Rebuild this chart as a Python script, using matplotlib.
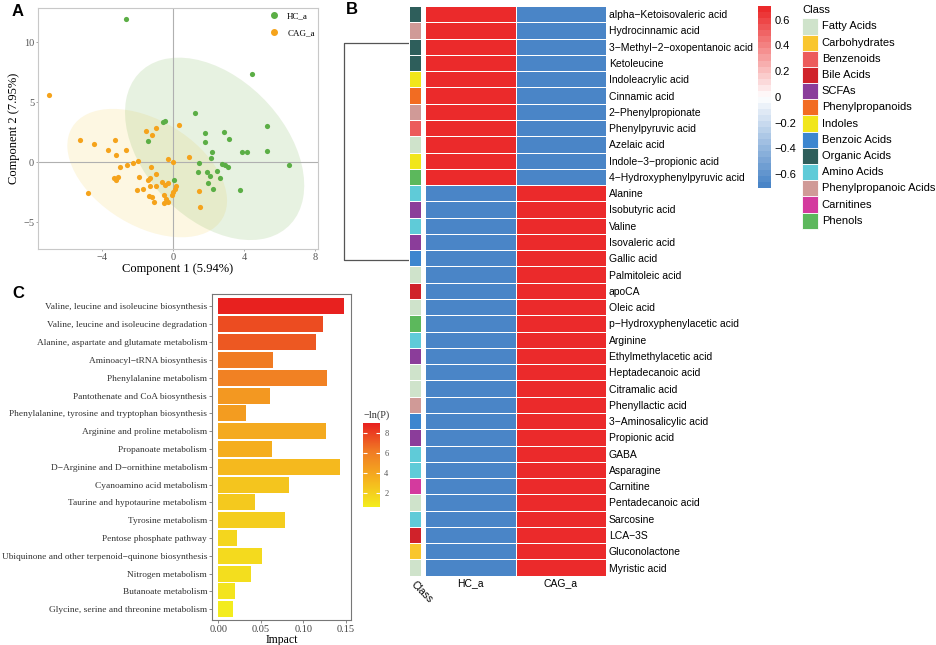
import numpy as np
import matplotlib
matplotlib.use("Agg")
import matplotlib.pyplot as plt
from matplotlib.patches import Ellipse, Rectangle
from matplotlib.lines import Line2D
from matplotlib.colors import LinearSegmentedColormap, Normalize, ListedColormap
import matplotlib.cm as cm

# === Panel A: PLS-DA scores ===
hc_x = [-2.63, 4.47, 1.22, 5.33, -0.56, -0.43, 1.78, 2.89, 3.17, 1.78, -1.39, 2.22, 3.90, 4.17, 5.28,
        2.12, 1.46, 2.78, 2.93, 3.12, 6.54, 1.41, 1.93, 2.08, 2.48, 2.65, 0.07, 1.97, 2.25, 3.79]
hc_y = [11.94, 7.39, 4.11, 3.05, 3.33, 3.44, 2.44, 2.55, 1.94, 1.69, 1.76, 0.83, 0.88, 0.88, 0.94,
        0.33, -0.06, -0.11, -0.22, -0.36, -0.25, -0.78, -0.81, -1.14, -0.70, -1.28, -1.45, -1.72, -2.25, -2.31]
cag_x = [-7.00, -5.24, -4.45, -4.81, 0.34, -0.98, -1.54, -1.20, -3.27, -3.68, -2.63, -3.23, 0.90, -0.26,
         0.02, -1.99, -2.27, -2.59, -2.97, -1.22, -0.94, -1.92, -3.34, -3.08, -3.19, -1.43, -1.30, -0.60,
         -0.45, -0.26, -0.98, -1.30, -1.71, -2.01, 0.17, 0.11, 0.02, -1.34, -1.20, -0.49, -0.38, -0.30,
         -0.51, -0.04, -1.05, 1.48, 1.54]
cag_y = [5.61, 1.89, 1.56, -2.58, 3.11, 2.83, 2.61, 2.28, 1.88, 1.03, 1.00, 0.61, 0.44, 0.28,
         0.03, 0.11, -0.08, -0.20, -0.36, -0.39, -1.00, -1.22, -1.28, -1.22, -1.47, -1.50, -1.33, -1.67,
         -1.89, -1.72, -1.95, -2.00, -2.20, -2.31, -1.98, -2.25, -2.50, -2.78, -2.86, -2.72, -3.06, -3.28,
         -3.39, -2.75, -3.31, -2.36, -3.75]
# 95% ellipses: centre, half extent along x / y, correlation
ell_center = {"HC_a": (2.35, 1.12), "CAG_a": (-1.45, -0.90)}
ell_half = {"HC_a": (5.05, 7.6), "CAG_a": (4.5, 5.35)}
ell_rho = {"HC_a": -0.40, "CAG_a": -0.43}

# === Panel B: heatmap ===
metabolites = ["alpha\u2212Ketoisovaleric acid", "Hydrocinnamic acid", "3\u2212Methyl\u22122\u2212oxopentanoic acid",
               "Ketoleucine", "Indoleacrylic acid", "Cinnamic acid", "2\u2212Phenylpropionate",
               "Phenylpyruvic acid", "Azelaic acid", "Indole\u22123\u2212propionic acid",
               "4\u2212Hydroxyphenylpyruvic acid", "Alanine", "Isobutyric acid", "Valine", "Isovaleric acid",
               "Gallic acid", "Palmitoleic acid", "apoCA", "Oleic acid", "p\u2212Hydroxyphenylacetic acid",
               "Arginine", "Ethylmethylacetic acid", "Heptadecanoic acid", "Citramalic acid",
               "Phenyllactic acid", "3\u2212Aminosalicylic acid", "Propionic acid", "GABA", "Asparagine",
               "Carnitine", "Pentadecanoic acid", "Sarcosine", "LCA\u22123S", "Gluconolactone", "Myristic acid"]
metab_class = ["Organic Acids", "Phenylpropanoic Acids", "Organic Acids", "Organic Acids", "Indoles",
               "Phenylpropanoids", "Phenylpropanoic Acids", "Benzenoids", "Fatty Acids", "Indoles",
               "Phenols", "Amino Acids", "SCFAs", "Amino Acids", "SCFAs", "Benzoic Acids", "Fatty Acids",
               "Bile Acids", "Fatty Acids", "Phenols", "Amino Acids", "SCFAs", "Fatty Acids", "Fatty Acids",
               "Phenylpropanoic Acids", "Benzoic Acids", "SCFAs", "Amino Acids", "Amino Acids", "Carnitines",
               "Fatty Acids", "Amino Acids", "Bile Acids", "Carbohydrates", "Fatty Acids"]
groups = ["HC_a", "CAG_a"]
z_hc = [0.707, 0.707, 0.707, 0.707, 0.707, 0.707, 0.707, 0.707, 0.707, 0.707, 0.707,
        -0.707, -0.707, -0.707, -0.707, -0.707, -0.707, -0.707, -0.707, -0.707, -0.707, -0.707, -0.707,
        -0.707, -0.707, -0.707, -0.707, -0.707, -0.707, -0.707, -0.707, -0.707, -0.707, -0.707, -0.707]
z_cag = [-0.707, -0.707, -0.707, -0.707, -0.707, -0.707, -0.707, -0.707, -0.707, -0.707, -0.707,
         0.707, 0.707, 0.707, 0.707, 0.707, 0.707, 0.707, 0.707, 0.707, 0.707, 0.707, 0.707,
         0.707, 0.707, 0.707, 0.707, 0.707, 0.707, 0.707, 0.707, 0.707, 0.707, 0.707, 0.707]
class_names = ["Fatty Acids", "Carbohydrates", "Benzenoids", "Bile Acids", "SCFAs", "Phenylpropanoids",
               "Indoles", "Benzoic Acids", "Organic Acids", "Amino Acids", "Phenylpropanoic Acids",
               "Carnitines", "Phenols"]
class_colors = ["#CFE3CB", "#F9C62E", "#EC5B5B", "#D0222A", "#8B3D9A", "#F26C22",
                "#F1E61B", "#3C86CF", "#2E5E5B", "#5FCBD8", "#D09A97", "#D43A9E", "#5CB85C"]
dendro_rows = [2.29, 15.6]   # where the two cluster branches join (row units)

# === Panel C: pathway impact ===
pathways = ["Valine, leucine and isoleucine biosynthesis", "Valine, leucine and isoleucine degradation",
            "Alanine, aspartate and glutamate metabolism", "Aminoacyl\u2212tRNA biosynthesis",
            "Phenylalanine metabolism", "Pantothenate and CoA biosynthesis",
            "Phenylalanine, tyrosine and tryptophan biosynthesis", "Arginine and proline metabolism",
            "Propanoate metabolism", "D\u2212Arginine and D\u2212ornithine metabolism",
            "Cyanoamino acid metabolism", "Taurine and hypotaurine metabolism", "Tyrosine metabolism",
            "Pentose phosphate pathway", "Ubiquinone and other terpenoid\u2212quinone biosynthesis",
            "Nitrogen metabolism", "Butanoate metabolism", "Glycine, serine and threonine metabolism"]
impact = [0.1484, 0.1229, 0.1147, 0.0648, 0.1276, 0.0609, 0.0326, 0.1264, 0.0628, 0.1433,
          0.0832, 0.0436, 0.0781, 0.0216, 0.0514, 0.0385, 0.0200, 0.0169]
neg_ln_p = [8.94, 7.6, 7.2, 6.1, 5.8, 4.7, 4.5, 3.8, 3.6, 3.1, 2.5, 2.3, 2.1, 1.7, 1.5, 1.3, 1.0, 0.64]

SERIF = "Liberation Serif"
SANS = "Liberation Sans"


def add_ellipse(ax, center, half, rho, **kw):
    """ellipse whose bounding box half sizes are `half`, tilted by correlation rho"""
    hx, hy = half
    m = np.array([[hx * hx, rho * hx * hy], [rho * hx * hy, hy * hy]])
    vals, vecs = np.linalg.eigh(m)
    angle = np.degrees(np.arctan2(vecs[1, 1], vecs[0, 1]))
    ax.add_patch(Ellipse(center, 2 * np.sqrt(vals[1]), 2 * np.sqrt(vals[0]), angle=angle, **kw))


fig = plt.figure(figsize=(9.36, 6.45), dpi=100)

# ---------- A ----------
axA = fig.add_axes([0.0403, 0.6135, 0.2997, 0.3736])
add_ellipse(axA, ell_center["CAG_a"], ell_half["CAG_a"], ell_rho["CAG_a"],
            facecolor="#F5D76E", alpha=0.2, edgecolor="none", zorder=0)
add_ellipse(axA, ell_center["HC_a"], ell_half["HC_a"], ell_rho["HC_a"],
            facecolor="#8BBF6A", alpha=0.2, edgecolor="none", zorder=0)
axA.axhline(0, color="#B0B0B0", lw=0.8, zorder=1)
axA.axvline(0, color="#B0B0B0", lw=0.8, zorder=1)
axA.scatter(hc_x, hc_y, s=14, color="#5BAE45", zorder=3, linewidths=0)
axA.scatter(cag_x, cag_y, s=14, color="#F5A31B", zorder=3, linewidths=0)
axA.set_xlim(-7.62, 8.19)
axA.set_ylim(-7.25, 12.83)
axA.set_xticks([-4, 0, 4, 8])
axA.set_yticks([-5, 0, 5, 10])
axA.tick_params(labelsize=7.5, labelcolor="#555555", color="#999999", length=1.5, width=0.6, pad=1)
for lab in axA.get_xticklabels() + axA.get_yticklabels():
    lab.set_family(SERIF)
for s in axA.spines.values():
    s.set_color("#C8C8C8")
    s.set_linewidth(0.8)
axA.set_xlabel("Component 1 (5.94%)", family=SERIF, fontsize=9, labelpad=1)
axA.set_ylabel("Component 2 (7.95%)", family=SERIF, fontsize=9, labelpad=2)
handles = [Line2D([], [], marker="o", ls="", color="#5BAE45", markersize=4, label="HC_a"),
           Line2D([], [], marker="o", ls="", color="#F5A31B", markersize=4, label="CAG_a")]
axA.legend(handles=handles, loc="upper right", frameon=False, prop={"family": SERIF, "size": 6.5},
           handletextpad=0.4, labelspacing=1.0, borderaxespad=0.1, borderpad=0.3)

# ---------- B ----------
n = len(metabolites)
hb, hh = 0.1074, 0.8833
axH = fig.add_axes([425 / 936, hb, 181 / 936, hh])
heat_cmap = LinearSegmentedColormap.from_list("bwr2", ["#4A85C7", "#FFFFFF", "#EB2A2B"])
heat_cmap = ListedColormap(heat_cmap(np.linspace(0, 1, 30)))
mat = np.column_stack([z_hc, z_cag])
axH.pcolormesh(mat, cmap=heat_cmap, vmin=-0.707, vmax=0.707, edgecolors="white", linewidth=0.6)
axH.set_xlim(0, 2)
axH.set_ylim(n, 0)
axH.set_xticks([0.5, 1.5])
axH.set_xticklabels(groups, family=SANS, fontsize=7.5)
axH.set_yticks(np.arange(n) + 0.5)
axH.set_yticklabels(metabolites, family=SANS, fontsize=7.5)
axH.yaxis.tick_right()
axH.tick_params(length=0, pad=2)
for s in axH.spines.values():
    s.set_visible(False)

axK = fig.add_axes([409 / 936, hb, 12 / 936, hh])
cls_idx = np.array([class_names.index(c) for c in metab_class]).reshape(-1, 1)
axK.pcolormesh(cls_idx, cmap=ListedColormap(class_colors), vmin=-0.5, vmax=len(class_names) - 0.5,
               edgecolors="white", linewidth=0.6)
axK.set_xlim(0, 1)
axK.set_ylim(n, 0)
axK.set_xticks([])
axK.set_yticks([])
for s in axK.spines.values():
    s.set_visible(False)
fig.text(409.5 / 936, 1 - 579.5 / 645, "Class", family=SANS, fontsize=7.5, rotation=-45,
         ha="left", va="top")

axD = fig.add_axes([340 / 936, hb, 69 / 936, hh])
axD.set_xlim(0, 1)
axD.set_ylim(n, 0)
axD.plot([1, 0.06, 0.06, 1], [dendro_rows[0], dendro_rows[0], dendro_rows[1], dendro_rows[1]],
         color="#555555", lw=0.9)
axD.axis("off")

axHC = fig.add_axes([758 / 936, 1 - 187.7 / 645, 12.7 / 936, 181.7 / 645])
cb = fig.colorbar(cm.ScalarMappable(norm=Normalize(-0.707, 0.707), cmap=heat_cmap), cax=axHC)
cb.outline.set_visible(False)
cb.set_ticks([-0.6, -0.4, -0.2, 0, 0.2, 0.4, 0.6])
cb.set_ticklabels(["\u22120.6", "\u22120.4", "\u22120.2", "0", "0.2", "0.4", "0.6"])
axHC.tick_params(length=0, labelsize=8, pad=3)
for lab in axHC.get_yticklabels():
    lab.set_family(SANS)

# class legend
fig.text(802 / 936, 1 - 10 / 645, "Class", family=SANS, fontsize=8, va="center", ha="left")
for i, (name, col) in enumerate(zip(class_names, class_colors)):
    y0 = 18.3 + i * 16.2
    fig.patches.append(Rectangle((802.3 / 936, 1 - (y0 + 16.2) / 645), 15.4 / 936, 16.2 / 645,
                                 transform=fig.transFigure, facecolor=col, edgecolor="white", lw=0.6))
    fig.text(821.7 / 936, 1 - (y0 + 8.1) / 645, name, family=SANS, fontsize=8, va="center", ha="left")

# ---------- C ----------
axC = fig.add_axes([0.2265, 0.0388, 0.1482, 0.5054])
c_cmap = LinearSegmentedColormap.from_list("yr", ["#F3EC1E", "#F5B21E", "#F07A24", "#E8211F"])
c_norm = Normalize(min(neg_ln_p), max(neg_ln_p))
ypos = np.arange(len(pathways))
axC.barh(ypos, impact, height=0.9, color=c_cmap(c_norm(neg_ln_p)))
axC.set_ylim(len(pathways) - 0.4, -0.7)
axC.set_xlim(-0.0074, 0.1559)
axC.set_yticks(ypos)
axC.set_yticklabels(pathways, family=SERIF, fontsize=6.75, color="#333333")
axC.set_xticks([0, 0.05, 0.10, 0.15])
axC.set_xticklabels(["0.00", "0.05", "0.10", "0.15"], family=SERIF, fontsize=7.5, color="#444444")
axC.tick_params(length=2, width=0.6, color="#777777", pad=1.5)
for s in axC.spines.values():
    s.set_color("#777777")
    s.set_linewidth(0.8)
axC.set_xlabel("Impact", family=SERIF, fontsize=8.5, labelpad=0)

axCC = fig.add_axes([362.5 / 936, 1 - 506.7 / 645, 17.5 / 936, 83.4 / 645])
cbc = fig.colorbar(cm.ScalarMappable(norm=c_norm, cmap=c_cmap), cax=axCC)
cbc.outline.set_visible(False)
cbc.set_ticks([2, 4, 6, 8])
axCC.tick_params(labelsize=6, color="white", length=3, direction="in", labelcolor="#555555", pad=3,
                 left=True, right=True)
for lab in axCC.get_yticklabels():
    lab.set_family(SERIF)
fig.text(376.7 / 936, 1 - 415 / 645, "\u2212ln(P)", family=SERIF, fontsize=7.5, ha="center",
         va="center", color="#333333")

# panel letters
for letter, (px, py) in {"A": (12, 11), "B": (346, 10), "C": (12, 293)}.items():
    fig.text(px / 936, 1 - py / 645, letter, family=SANS, fontsize=12, fontweight="bold",
             ha="left", va="center")

fig.savefig("out.png", dpi=100)
